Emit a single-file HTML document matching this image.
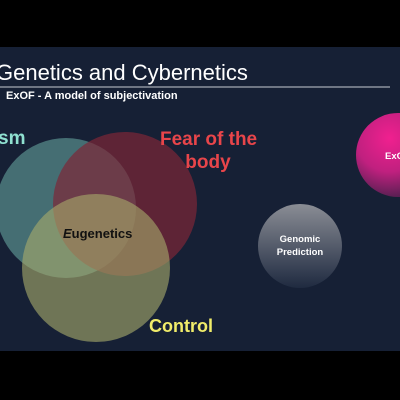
<!DOCTYPE html>
<html><head><style>
body{margin:0;width:400px;height:400px;background:#000;overflow:hidden;position:relative;font-family:"Liberation Sans",sans-serif}
.s{position:absolute;left:0;top:47px;width:400px;height:304px;background:#162035;overflow:hidden}
.t{position:absolute;white-space:nowrap}
</style></head><body>
<div class="s">
<svg width="400" height="304" style="position:absolute;left:0;top:0">
<defs>
<radialGradient id="p" cx="0.4" cy="0.3" r="0.8"><stop offset="0" stop-color="#f0208f"/><stop offset="0.5" stop-color="#c0207f"/><stop offset="1" stop-color="#3a1f45"/></radialGradient>
<linearGradient id="g" x1="0" y1="0" x2="0" y2="1"><stop offset="0" stop-color="#8a8d95"/><stop offset="1" stop-color="#1f2a40"/></linearGradient>
</defs>
<line x1="0" y1="40" x2="390" y2="40" stroke="#c8ccd4" stroke-width="1"/>
<circle cx="66" cy="161" r="70" fill="#5f9895" fill-opacity="0.65"/>
<circle cx="125" cy="157" r="72" fill="#7e2638" fill-opacity="0.7"/>
<circle cx="96" cy="221" r="74" fill="#a6a96a" fill-opacity="0.62"/>
<circle cx="300" cy="199" r="42" fill="url(#g)"/>
<circle cx="398" cy="108" r="42" fill="url(#p)"/>
</svg>
<div class="t" style="left:-4px;top:13px;font-size:22px;color:#fff">Genetics and Cybernetics</div>
<div class="t" style="left:6px;top:43px;font-size:11px;font-weight:bold;color:#fff">ExOF - A model of subjectivation</div>
<div class="t" style="left:-2px;top:81px;font-size:19px;font-weight:bold;color:#8fe0d0">sm</div>
<div class="t" style="left:160px;top:81px;width:96px;text-align:center;font-size:19px;font-weight:bold;line-height:23px;color:#e8454a">Fear of the<br>body</div>
<div class="t" style="left:63px;top:179px;font-size:13px;font-weight:bold;color:#111"><i>E</i>ugenetics</div>
<div class="t" style="left:149px;top:269px;font-size:18px;font-weight:bold;color:#f0ec6a">Control</div>
<div class="t" style="left:262px;top:186px;width:76px;text-align:center;font-size:9.5px;font-weight:bold;line-height:13px;color:#fff">Genomic<br>Prediction</div>
<div class="t" style="left:385px;top:104px;font-size:9.5px;font-weight:bold;color:#fff">ExOF</div>
</div>
</body></html>
